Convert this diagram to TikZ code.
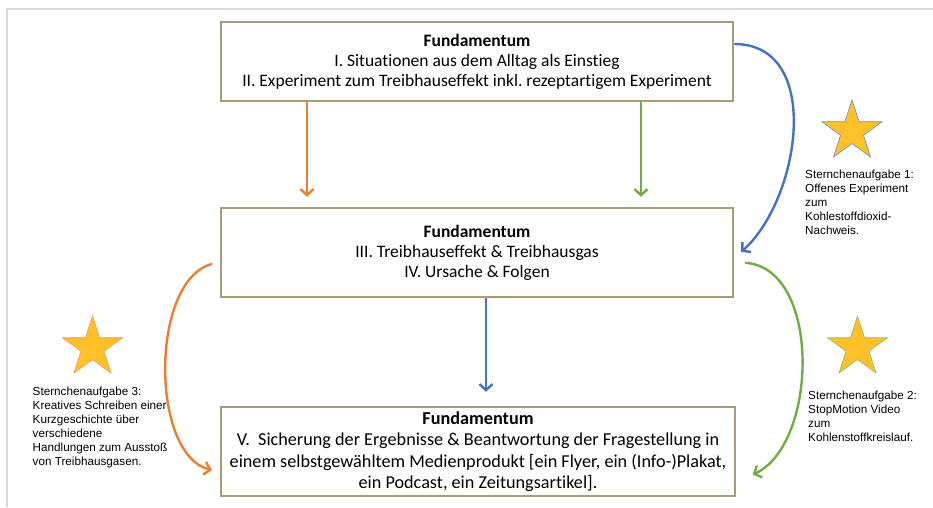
\documentclass[tikz,border=0pt]{standalone}
\usepackage{fontspec}
\setmainfont{Carlito}[Ligatures=NoCommon]
\newfontfamily\notefont{Liberation Sans}
\usetikzlibrary{shapes.geometric,arrows.meta}
\frenchspacing

\definecolor{boxline}{HTML}{A99B77}
\definecolor{frameg}{HTML}{DADADA}
\definecolor{arrblue}{HTML}{4472C4}
\definecolor{arrorange}{HTML}{ED7D31}
\definecolor{arrgreen}{HTML}{70AD47}
\definecolor{starfill}{HTML}{FFC02A}

\tikzset{
  stage/.style={draw=boxline, line width=2.5pt, fill=white, align=center,
    inner sep=0pt, font=\fontsize{17.5}{20}\selectfont},
  flow/.style={line width=2.4pt, -{Straight Barb[length=6pt,width=13pt]}},
  prize/.style={star, star points=5, star point ratio=2.6, minimum size=63pt,
    inner sep=0pt, fill=starfill, line width=0.6pt},
  note/.style={anchor=north west, align=left, inner sep=0pt,
    font=\notefont\fontsize{11.7}{14}\selectfont},
}

\begin{document}
\begin{tikzpicture}[x=1pt,y=-1pt]
\useasboundingbox (0,0) rectangle (933,507);

% page frame
\draw[frameg, line width=2pt] (6.5,507) -- (6.5,9) -- (933,9);

% the three stages
\node[stage, minimum width=512pt, minimum height=79pt] (top) at (477,61.5)
  {\textbf{Fundamentum}\\I. Situationen aus dem Alltag als Einstieg\\
   II. Experiment zum Treibhauseffekt inkl. rezeptartigem Experiment};
\node[stage, minimum width=512pt, minimum height=89pt] (mid) at (477,252.5)
  {\textbf{Fundamentum}\\III. Treibhauseffekt \& Treibhausgas\\IV. Ursache \& Folgen};
\node[stage, minimum width=514pt, minimum height=89pt,
      font=\fontsize{18.2}{21.5}\selectfont] (bot) at (478,451.5)
  {\textbf{Fundamentum}\\
   V.~ Sicherung der Ergebnisse \& Beantwortung der Fragestellung in\\
   einem selbstgewähltem Medienprodukt [ein Flyer, ein (Info-)Plakat,\\
   ein Podcast, ein Zeitungsartikel].};

% straight connectors
\draw[flow, arrorange, shorten >=10pt] (top.south -| 307,0) -- (mid.north -| 307,0);
\draw[flow, arrgreen, shorten >=10pt] (top.south -| 641,0) -- (mid.north -| 641,0);
\draw[flow, arrblue, shorten >=14pt] (mid.south -| 486,0) -- (bot.north -| 486,0);

% curved side connectors
\draw[flow, arrblue, shorten >=9pt] (top.east |- 0,44)
  .. controls (824,44) and (800,200) .. (mid.east |- 0,258);
\draw[flow, arrorange, shorten <=8pt, shorten >=8pt] (mid.west |- 0,262)
  .. controls (150,280) and (150,455) .. (bot.west |- 0,472);
\draw[flow, arrgreen, shorten <=11pt, shorten >=18pt] (mid.east |- 0,262)
  .. controls (822,268) and (818,445) .. (bot.east |- 0,482);

% stars with their tasks
\node[prize, draw=arrblue!80] (s1) at (852,131.5) {};
\node[prize, draw=arrgreen!80] (s2) at (857.5,347.5) {};
\node[prize, draw=arrorange!80] (s3) at (92.5,347.5) {};

\node[note] (t1) at (805,169.5)
  {Sternchenaufgabe 1:\\Offenes Experiment\\zum\\Kohlestoffdioxid-\\Nachweis.};
\node[note] (t2) at (808,390.5)
  {Sternchenaufgabe 2:\\StopMotion Video\\zum\\Kohlenstoffkreislauf.};
\node[note] (t3) at (32.5,386.5)
  {Sternchenaufgabe 3:\\Kreatives Schreiben einer\\Kurzgeschichte über\\verschiedene\\Handlungen zum Ausstoß\\von Treibhausgasen.};
\end{tikzpicture}
\end{document}
